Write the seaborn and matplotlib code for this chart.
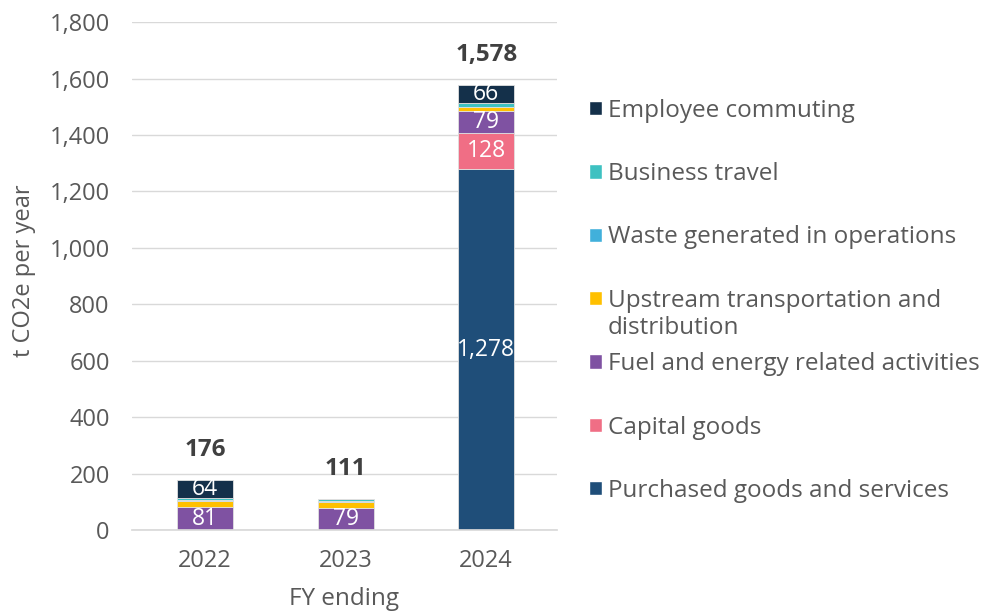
import numpy as np
import matplotlib
matplotlib.use("Agg")
import matplotlib.pyplot as plt
import seaborn as sns
from matplotlib.patches import Patch

years = ["2022", "2023", "2024"]

# stacked bottom -> top
categories = [
    "Purchased goods and services",
    "Capital goods",
    "Fuel and energy related activities",
    "Upstream transportation and",
    "Waste generated in operations",
    "Business travel",
    "Employee commuting",
]
purchased = [0, 0, 1278]
capital = [0, 0, 128]
fuel = [81, 79, 79]
upstream = [22, 20, 13]
waste = [4, 4, 2]
business = [5, 8, 12]
commuting = [64, 0, 66]
totals = [176, 111, 1578]

series = [purchased, capital, fuel, upstream, waste, business, commuting]
colors = ["#1F4E79", "#F06E85", "#7F52A2", "#FFC000", "#41B0DB", "#3EC1C1", "#14304A"]

sns.set_theme(style="white")
plt.rcParams["font.family"] = ["Open Sans", "DejaVu Sans"]
grey = "#595959"
fs = 17

fig = plt.figure(figsize=(9.85, 6.13), dpi=100)
ax = fig.add_axes([0.134, 0.1354, 0.431, 0.8286])

bottom = np.zeros(len(years))
for vals, col, name in zip(series, colors, categories):
    sns.barplot(x=years, y=vals, color=col, bottom=bottom, width=0.4, saturation=1,
                edgecolor="#e0e0e0", linewidth=0.6, ax=ax, order=years)
    cont = ax.containers[-1]
    labels = [f"{v:,}" if v >= 50 else "" for v in vals]
    ax.bar_label(cont, labels=labels, label_type="center", color="white", fontsize=16.5)
    bottom = bottom + np.array(vals)

ax.bar_label(ax.containers[-1], labels=[f"{t:,}" for t in totals], padding=13,
             fontsize=17.5, fontweight="bold", color="#404040")

ax.set_ylim(0, 1800)
ax.set_xlim(-0.52, 2.5)
ax.set_yticks(np.arange(0, 1801, 200))
ax.set_yticklabels([f"{v:,}" for v in range(0, 1801, 200)])
ax.yaxis.grid(True, color="#d9d9d9", linewidth=1)
ax.set_axisbelow(True)
for s in ["top", "right", "left"]:
    ax.spines[s].set_visible(False)
ax.spines["bottom"].set_color("#d9d9d9")
ax.tick_params(axis="both", colors=grey, labelsize=fs, length=0)
ax.tick_params(axis="x", pad=14)
ax.tick_params(axis="y", pad=16)
ax.set_ylabel("t CO2e per year", color=grey, fontsize=17)
ax.set_xlabel("FY ending", color=grey, fontsize=17.5)
ax.yaxis.set_label_coords(-0.225, 0.51)
ax.xaxis.set_label_coords(0.5, -0.113)

handles = [Patch(facecolor=c, label=n) for c, n in zip(colors, categories)][::-1]
leg = fig.legend(handles=handles, loc="upper left", bbox_to_anchor=(0.598, 0.839),
                 frameon=False, fontsize=17.5, labelcolor=grey, handlelength=0.53,
                 handleheight=0.53, handletextpad=0.25, labelspacing=1.62,
                 borderaxespad=0, borderpad=0)

# second line of the wrapped legend label, placed under its first line
fig.canvas.draw()
up_txt = leg.get_texts()[3]
bb = up_txt.get_window_extent().transformed(fig.transFigure.inverted())
fig.text(bb.x0, bb.y0 - 0.006, "distribution", fontsize=17.5, color=grey,
         ha="left", va="top")

fig.savefig("out.png", dpi=100)
